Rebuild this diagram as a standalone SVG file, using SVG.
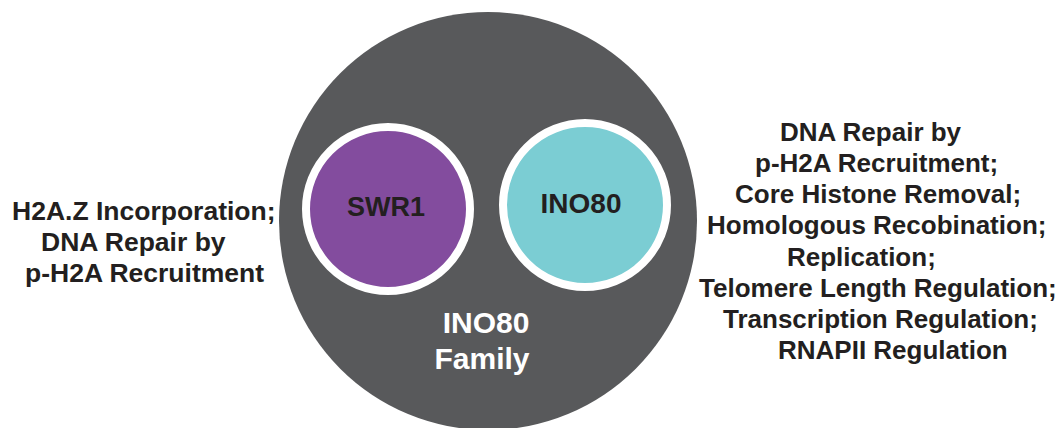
<svg xmlns="http://www.w3.org/2000/svg" width="1064" height="428" viewBox="0 0 1064 428">
<style>
text{font-family:"Liberation Sans",Arial,sans-serif;font-weight:bold}
.lbl{font-size:26px;fill:#231f20}
.left{font-size:26.5px}
.inner{stroke:#ffffff;stroke-width:8}
</style>
<rect width="1064" height="428" fill="#ffffff"/>
<g id="family">
<circle cx="488" cy="221" r="209" fill="#58595b"/>
<text x="486" y="333" font-size="30" fill="#ffffff" text-anchor="middle">INO80</text>
<text x="482" y="369" font-size="30" fill="#ffffff" text-anchor="middle">Family</text>
</g>
<g id="swr1">
<circle class="inner" cx="388" cy="209" r="82" fill="#834c9e"/>
<text x="386" y="216" font-size="27" fill="#231f20" text-anchor="middle">SWR1</text>
</g>
<g id="ino80">
<circle class="inner" cx="585" cy="205" r="82" fill="#7bcdd3"/>
<text x="581" y="213" font-size="28" fill="#231f20" text-anchor="middle">INO80</text>
</g>
<g id="swr1-functions">
<text class="lbl left" x="12" y="220">H2A.Z Incorporation;</text>
<text class="lbl left" x="41" y="251">DNA Repair by</text>
<text class="lbl left" x="25" y="282">p-H2A Recruitment</text>
</g>
<g id="ino80-functions">
<text class="lbl" x="780" y="141">DNA Repair by</text>
<text class="lbl" x="755" y="172">p-H2A Recruitment;</text>
<text class="lbl" x="735" y="203">Core Histone Removal;</text>
<text class="lbl" x="707" y="234">Homologous Recobination;</text>
<text class="lbl" x="787" y="266">Replication;</text>
<text class="lbl" x="699" y="297">Telomere Length Regulation;</text>
<text class="lbl" x="723" y="328">Transcription Regulation;</text>
<text class="lbl" x="778" y="359">RNAPII Regulation</text>
</g>
<g id="connectors"/>
</svg>
